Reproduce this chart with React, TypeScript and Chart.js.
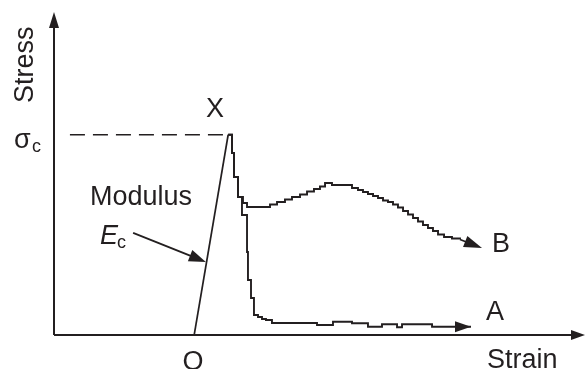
import React, { useEffect, useRef } from "react";
import { Chart, registerables } from "chart.js";

Chart.register(...registerables);

// ---- data (arbitrary strain / stress units) ----
const STRAIN_MAX = 100;
const STRESS_MAX = 100;
const SIGMA_C = 62;
const PEAK_STRAIN = 32.8;
const O_STRAIN = 26.4;
const DASH_START = 3.0;

const LOADING_X = [O_STRAIN, PEAK_STRAIN];
const LOADING_Y = [0, SIGMA_C];

const A_X = [32.8, 33.52, 33.9, 34.65, 35.4, 36.35, 36.53, 37.1, 37.66, 38.42, 39.17, 39.92, 41.05, 49.53, 52.54, 56.12, 59.13, 61.77, 64.6, 65.54, 71.19, 78.53];
const A_Y = [62, 56.35, 48.92, 42.72, 37.15, 25.7, 17.03, 11.46, 6.19, 5.57, 4.95, 4.64, 3.72, 3.1, 4.12, 3.62, 2.57, 3.31, 2.38, 3.31, 2.57, 2.57];

const B_X = [32.8, 33.52, 33.9, 34.65, 35.59, 36.35, 40.68, 42.0, 43.5, 44.82, 46.33, 47.65, 48.96, 50.09, 51.04, 52.35, 56.12, 57.25, 58.19, 59.13, 60.08, 61.02, 61.96, 62.9, 63.84, 64.78, 65.73, 66.67, 67.61, 68.55, 69.49, 70.43, 71.37, 72.32, 73.45, 74.95, 76.46];
const B_Y = [62, 56.35, 48.92, 42.72, 40.87, 39.63, 40.4, 41.18, 41.95, 42.72, 43.5, 44.43, 45.2, 45.98, 47.06, 46.44, 45.51, 44.89, 44.27, 43.65, 43.03, 42.41, 41.64, 41.18, 40.4, 39.47, 38.39, 37.31, 36.22, 35.14, 34.06, 33.13, 32.2, 31.11, 30.34, 29.88, 29.57];
const B_TIP = [80.6, 26.93];

const EC_FROM = [14.9, 31.6];
const EC_TO = [28.6, 22.6];

const INK = "#231f20";
const FONT = "'Liberation Sans', Arial, Helvetica, sans-serif";

const pts = (xs: number[], ys: number[]) => xs.map((x, i) => ({ x, y: ys[i] }));

function arrowTo(ctx: CanvasRenderingContext2D, x0: number, y0: number, x1: number, y1: number, len: number, half: number, drawShaft = true) {
  const dx = x1 - x0, dy = y1 - y0;
  const d = Math.hypot(dx, dy) || 1;
  const ux = dx / d, uy = dy / d;
  const bx = x1 - ux * len, by = y1 - uy * len;
  if (drawShaft) {
    ctx.beginPath();
    ctx.moveTo(x0, y0);
    ctx.lineTo(bx + ux * 2, by + uy * 2);
    ctx.stroke();
  }
  ctx.beginPath();
  ctx.moveTo(x1, y1);
  ctx.lineTo(bx - uy * half, by + ux * half);
  ctx.lineTo(bx + uy * half, by - ux * half);
  ctx.closePath();
  ctx.fill();
}

const overlay = {
  id: "overlay",
  afterDatasetsDraw(chart: any) {
    const { ctx, scales } = chart;
    const px = (v: number) => scales.x.getPixelForValue(v);
    const py = (v: number) => scales.y.getPixelForValue(v);
    ctx.save();
    ctx.strokeStyle = INK;
    ctx.fillStyle = INK;
    ctx.lineCap = "butt";

    // axes
    ctx.lineWidth = 2;
    arrowTo(ctx, px(0), py(0), px(0), py(STRESS_MAX), 16, 5);
    arrowTo(ctx, px(0), py(0), px(STRAIN_MAX), py(0), 14, 5);

    // curve arrows
    ctx.lineWidth = 1.8;
    const aN = A_X.length;
    arrowTo(ctx, px(A_X[aN - 2]), py(A_Y[aN - 2]), px(A_X[aN - 1]), py(A_Y[aN - 1]), 16, 5.5, false);
    const bN = B_X.length;
    arrowTo(ctx, px(B_X[bN - 1]), py(B_Y[bN - 1]), px(B_TIP[0]), py(B_TIP[1]), 18, 6);
    arrowTo(ctx, px(EC_FROM[0]), py(EC_FROM[1]), px(EC_TO[0]), py(EC_TO[1]), 17, 6);

    // texts
    ctx.textBaseline = "alphabetic";
    ctx.textAlign = "left";
    const big = `27px ${FONT}`;
    const sub = `18px ${FONT}`;
    ctx.font = big;
    ctx.fillText("X", 206, 117);
    ctx.fillText("Modulus", 90, 205);
    ctx.fillText("A", 486, 320);
    ctx.fillText("B", 492, 252);
    ctx.fillText("Strain", 487, 368);
    ctx.textAlign = "center";
    ctx.fillText("O", 193, 370);
    ctx.textAlign = "left";
    ctx.fillText("\u03c3", 14, 148);
    ctx.font = sub;
    ctx.fillText("c", 32, 152);
    ctx.font = `italic ${big}`;
    ctx.fillText("E", 100, 244);
    ctx.font = sub;
    ctx.fillText("c", 117, 248);

    ctx.save();
    ctx.translate(33, 103);
    ctx.rotate(-Math.PI / 2);
    ctx.font = big;
    ctx.fillText("Stress", 0, 0);
    ctx.restore();

    ctx.restore();
  },
};

export default function App() {
  const ref = useRef<HTMLCanvasElement>(null);
  useEffect(() => {
    if (!ref.current) return;
    const chart = new Chart(ref.current, {
      type: "line",
      data: {
        datasets: [
          { data: pts([DASH_START, PEAK_STRAIN], [SIGMA_C, SIGMA_C]), borderColor: INK, borderWidth: 1.6, borderDash: [15, 8], pointRadius: 0 },
          { data: pts(LOADING_X, LOADING_Y), borderColor: INK, borderWidth: 1.7, pointRadius: 0 },
          { data: pts(A_X, A_Y), borderColor: INK, borderWidth: 1.9, pointRadius: 0, stepped: true },
          { data: pts(B_X, B_Y), borderColor: INK, borderWidth: 1.9, pointRadius: 0, stepped: true },
        ],
      },
      options: {
        animation: false,
        responsive: true,
        maintainAspectRatio: false,
        layout: { padding: { left: 54, top: 12, right: 0, bottom: 34 } },
        scales: {
          x: { type: "linear", min: 0, max: STRAIN_MAX, display: false },
          y: { type: "linear", min: 0, max: STRESS_MAX, display: false },
        },
        plugins: { legend: { display: false }, tooltip: { enabled: false } },
      },
      plugins: [overlay],
    });
    return () => chart.destroy();
  }, []);
  return (
    <div style={{ position: "fixed", left: 0, top: 0, width: 585, height: 369, background: "#fff" }}>
      <canvas ref={ref} />
    </div>
  );
}
